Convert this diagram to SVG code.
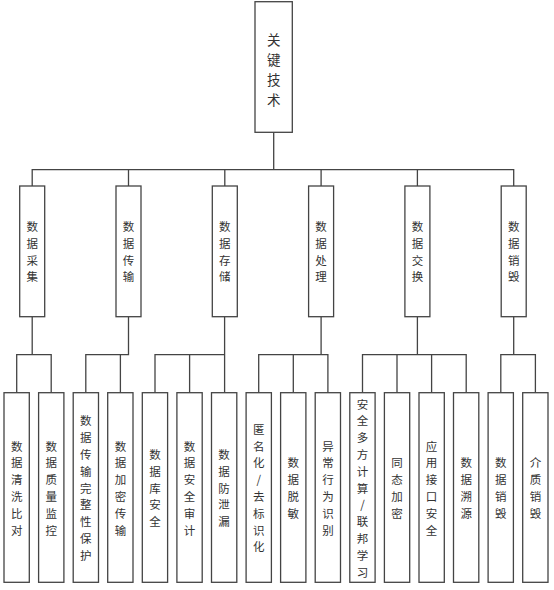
<svg xmlns="http://www.w3.org/2000/svg" width="554" height="590" viewBox="0 0 554 590">
<style>
.box{fill:#fff;stroke:#444;stroke-width:1.3}
.ln{fill:none;stroke:#444;stroke-width:1.3}
text{font-family:"Noto Sans CJK SC","Noto Sans",sans-serif;fill:#333;text-anchor:middle;dominant-baseline:central}
.t1{font-size:13.5px}
.t2{font-size:11.5px}
</style>
<rect width="554" height="590" fill="#fff"/>
<g id="connectors">
<path class="ln" d="M273.7,132.3V169.7M32.2,186V169.7H513.7V186M128.5,169.7V186M224.8,169.7V186M321.1,169.7V186M417.4,169.7V186"/>
<path class="ln" d="M32.2,316.7V354.7M16.7,392.7V354.7H51.2V392.7"/>
<path class="ln" d="M128.5,316.7V354.7H85.8V392.7M120.4,354.7V392.7"/>
<path class="ln" d="M224.6,316.7V392.7M224.6,354.7H155V392.7M189.6,354.7V392.7"/>
<path class="ln" d="M321.1,316.7V354.7M258.7,392.7V354.7H327.9V392.7M293.3,354.7V392.7"/>
<path class="ln" d="M417.4,316.7V354.7M362.5,392.7V354.7H466.2V392.7M397,354.7V392.7M431.6,354.7V392.7"/>
<path class="ln" d="M513.7,316.7V354.7M500.8,392.7V354.7H535.4V392.7"/>
</g>
<g id="root">
<rect class="box" x="255" y="1.7" width="37.3" height="130.6"/>
<text class="t1"><tspan x="273.7" y="39">关</tspan><tspan x="273.7" y="59">键</tspan><tspan x="273.7" y="79">技</tspan><tspan x="273.7" y="99">术</tspan></text>
</g>
<g id="m1"><rect class="box" x="19.7" y="186" width="25" height="130.7"/>
<text class="t2"><tspan x="32.2" y="226">数</tspan><tspan x="32.2" y="242.8">据</tspan><tspan x="32.2" y="259.6">采</tspan><tspan x="32.2" y="276.4">集</tspan></text></g>
<g id="m2"><rect class="box" x="116" y="186" width="25" height="130.7"/>
<text class="t2"><tspan x="128.5" y="226">数</tspan><tspan x="128.5" y="242.8">据</tspan><tspan x="128.5" y="259.6">传</tspan><tspan x="128.5" y="276.4">输</tspan></text></g>
<g id="m3"><rect class="box" x="212.3" y="186" width="25" height="130.7"/>
<text class="t2"><tspan x="224.8" y="226">数</tspan><tspan x="224.8" y="242.8">据</tspan><tspan x="224.8" y="259.6">存</tspan><tspan x="224.8" y="276.4">储</tspan></text></g>
<g id="m4"><rect class="box" x="308.6" y="186" width="25" height="130.7"/>
<text class="t2"><tspan x="321.1" y="226">数</tspan><tspan x="321.1" y="242.8">据</tspan><tspan x="321.1" y="259.6">处</tspan><tspan x="321.1" y="276.4">理</tspan></text></g>
<g id="m5"><rect class="box" x="404.9" y="186" width="25" height="130.7"/>
<text class="t2"><tspan x="417.4" y="226">数</tspan><tspan x="417.4" y="242.8">据</tspan><tspan x="417.4" y="259.6">交</tspan><tspan x="417.4" y="276.4">换</tspan></text></g>
<g id="m6"><rect class="box" x="501.2" y="186" width="25" height="130.7"/>
<text class="t2"><tspan x="513.7" y="226">数</tspan><tspan x="513.7" y="242.8">据</tspan><tspan x="513.7" y="259.6">销</tspan><tspan x="513.7" y="276.4">毁</tspan></text></g>

<g id="b1"><rect class="box" x="4" y="392.7" width="25.3" height="189.6"/>
<text class="t2"><tspan x="16.7" y="445.5">数</tspan><tspan x="16.7" y="462.3">据</tspan><tspan x="16.7" y="479.1">清</tspan><tspan x="16.7" y="495.9">洗</tspan><tspan x="16.7" y="512.7">比</tspan><tspan x="16.7" y="529.5">对</tspan></text></g>
<g id="b2"><rect class="box" x="38.6" y="392.7" width="25.3" height="189.6"/>
<text class="t2"><tspan x="51.2" y="445.5">数</tspan><tspan x="51.2" y="462.3">据</tspan><tspan x="51.2" y="479.1">质</tspan><tspan x="51.2" y="495.9">量</tspan><tspan x="51.2" y="512.7">监</tspan><tspan x="51.2" y="529.5">控</tspan></text></g>
<g id="b3"><rect class="box" x="73.2" y="392.7" width="25.3" height="189.6"/>
<text class="t2"><tspan x="85.8" y="420.3">数</tspan><tspan x="85.8" y="437.1">据</tspan><tspan x="85.8" y="453.9">传</tspan><tspan x="85.8" y="470.7">输</tspan><tspan x="85.8" y="487.5">完</tspan><tspan x="85.8" y="504.3">整</tspan><tspan x="85.8" y="521.1">性</tspan><tspan x="85.8" y="537.9">保</tspan><tspan x="85.8" y="554.7">护</tspan></text></g>
<g id="b4"><rect class="box" x="107.7" y="392.7" width="25.3" height="189.6"/>
<text class="t2"><tspan x="120.4" y="445.5">数</tspan><tspan x="120.4" y="462.3">据</tspan><tspan x="120.4" y="479.1">加</tspan><tspan x="120.4" y="495.9">密</tspan><tspan x="120.4" y="512.7">传</tspan><tspan x="120.4" y="529.5">输</tspan></text></g>
<g id="b5"><rect class="box" x="142.3" y="392.7" width="25.3" height="189.6"/>
<text class="t2"><tspan x="155" y="453.9">数</tspan><tspan x="155" y="470.7">据</tspan><tspan x="155" y="487.5">库</tspan><tspan x="155" y="504.3">安</tspan><tspan x="155" y="521.1">全</tspan></text></g>
<g id="b6"><rect class="box" x="176.9" y="392.7" width="25.3" height="189.6"/>
<text class="t2"><tspan x="189.6" y="445.5">数</tspan><tspan x="189.6" y="462.3">据</tspan><tspan x="189.6" y="479.1">安</tspan><tspan x="189.6" y="495.9">全</tspan><tspan x="189.6" y="512.7">审</tspan><tspan x="189.6" y="529.5">计</tspan></text></g>
<g id="b7"><rect class="box" x="211.5" y="392.7" width="25.3" height="189.6"/>
<text class="t2"><tspan x="224.1" y="453.9">数</tspan><tspan x="224.1" y="470.7">据</tspan><tspan x="224.1" y="487.5">防</tspan><tspan x="224.1" y="504.3">泄</tspan><tspan x="224.1" y="521.1">漏</tspan></text></g>
<g id="b8"><rect class="box" x="246.1" y="392.7" width="25.3" height="189.6"/>
<text class="t2"><tspan x="258.7" y="428.7">匿</tspan><tspan x="258.7" y="445.5">名</tspan><tspan x="258.7" y="462.3">化</tspan><tspan x="258.7" y="479.1">/</tspan><tspan x="258.7" y="495.9">去</tspan><tspan x="258.7" y="512.7">标</tspan><tspan x="258.7" y="529.5">识</tspan><tspan x="258.7" y="546.3">化</tspan></text></g>
<g id="b9"><rect class="box" x="280.6" y="392.7" width="25.3" height="189.6"/>
<text class="t2"><tspan x="293.3" y="462.3">数</tspan><tspan x="293.3" y="479.1">据</tspan><tspan x="293.3" y="495.9">脱</tspan><tspan x="293.3" y="512.7">敏</tspan></text></g>
<g id="b10"><rect class="box" x="315.2" y="392.7" width="25.3" height="189.6"/>
<text class="t2"><tspan x="327.9" y="445.5">异</tspan><tspan x="327.9" y="462.3">常</tspan><tspan x="327.9" y="479.1">行</tspan><tspan x="327.9" y="495.9">为</tspan><tspan x="327.9" y="512.7">识</tspan><tspan x="327.9" y="529.5">别</tspan></text></g>
<g id="b11"><rect class="box" x="349.8" y="392.7" width="25.3" height="189.6"/>
<text class="t2"><tspan x="362.5" y="403.5">安</tspan><tspan x="362.5" y="420.3">全</tspan><tspan x="362.5" y="437.1">多</tspan><tspan x="362.5" y="453.9">方</tspan><tspan x="362.5" y="470.7">计</tspan><tspan x="362.5" y="487.5">算</tspan><tspan x="362.5" y="504.3">/</tspan><tspan x="362.5" y="521.1">联</tspan><tspan x="362.5" y="537.9">邦</tspan><tspan x="362.5" y="554.7">学</tspan><tspan x="362.5" y="571.5">习</tspan></text></g>
<g id="b12"><rect class="box" x="384.4" y="392.7" width="25.3" height="189.6"/>
<text class="t2"><tspan x="397" y="462.3">同</tspan><tspan x="397" y="479.1">态</tspan><tspan x="397" y="495.9">加</tspan><tspan x="397" y="512.7">密</tspan></text></g>
<g id="b13"><rect class="box" x="419" y="392.7" width="25.3" height="189.6"/>
<text class="t2"><tspan x="431.6" y="445.5">应</tspan><tspan x="431.6" y="462.3">用</tspan><tspan x="431.6" y="479.1">接</tspan><tspan x="431.6" y="495.9">口</tspan><tspan x="431.6" y="512.7">安</tspan><tspan x="431.6" y="529.5">全</tspan></text></g>
<g id="b14"><rect class="box" x="453.5" y="392.7" width="25.3" height="189.6"/>
<text class="t2"><tspan x="466.2" y="462.3">数</tspan><tspan x="466.2" y="479.1">据</tspan><tspan x="466.2" y="495.9">溯</tspan><tspan x="466.2" y="512.7">源</tspan></text></g>
<g id="b15"><rect class="box" x="488.1" y="392.7" width="25.3" height="189.6"/>
<text class="t2"><tspan x="500.8" y="462.3">数</tspan><tspan x="500.8" y="479.1">据</tspan><tspan x="500.8" y="495.9">销</tspan><tspan x="500.8" y="512.7">毁</tspan></text></g>
<g id="b16"><rect class="box" x="522.7" y="392.7" width="25.3" height="189.6"/>
<text class="t2"><tspan x="535.4" y="462.3">介</tspan><tspan x="535.4" y="479.1">质</tspan><tspan x="535.4" y="495.9">销</tspan><tspan x="535.4" y="512.7">毁</tspan></text></g>
</svg>
